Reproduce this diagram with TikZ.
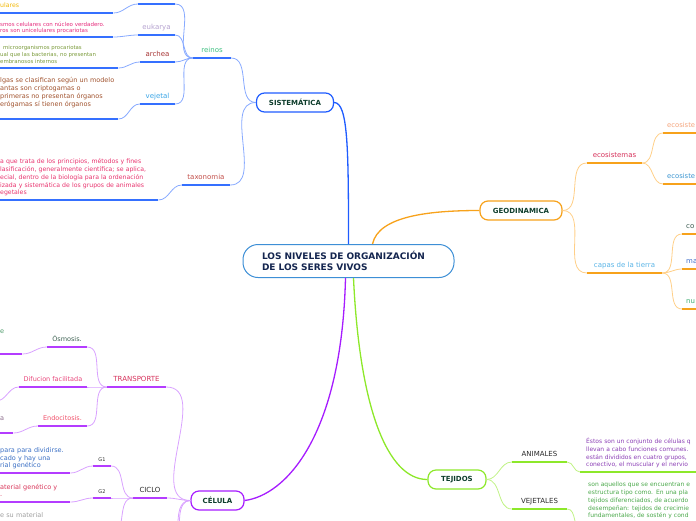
\documentclass[tikz,border=0pt]{standalone}
\usepackage{fontspec}
\setmainfont{DejaVu Sans}

\definecolor{rootblue}{HTML}{3D8FD6}
\definecolor{rootink}{HTML}{14254F}
\definecolor{boxink}{HTML}{0E3D2C}
\definecolor{sisblue}{HTML}{1F5CFF}
\definecolor{sisline}{HTML}{3570FF}
\definecolor{sislight}{HTML}{88AAFF}
\definecolor{geoorange}{HTML}{F7A21B}
\definecolor{geolight}{HTML}{FFCF88}
\definecolor{tejgreen}{HTML}{8DE82A}
\definecolor{tejlight}{HTML}{C0F285}
\definecolor{celpurple}{HTML}{A61CFF}
\definecolor{celline}{HTML}{B43CFF}
\definecolor{cellight}{HTML}{D9A2FF}
\definecolor{reinoink}{HTML}{3DBF80}
\definecolor{eukink}{HTML}{B5A2CF}
\definecolor{archink}{HTML}{A63434}
\definecolor{vejink}{HTML}{3AA5E6}
\definecolor{taxink}{HTML}{C24F4A}
\definecolor{ecoink}{HTML}{D6335C}
\definecolor{ecoAink}{HTML}{F4A47C}
\definecolor{ecoBink}{HTML}{3A94D0}
\definecolor{capink}{HTML}{5AB4E6}
\definecolor{capAink}{HTML}{3A5A50}
\definecolor{capBink}{HTML}{3A6AC8}
\definecolor{capCink}{HTML}{3AAA70}
\definecolor{darkink}{HTML}{2A2A2A}
\definecolor{transink}{HTML}{D6335C}
\definecolor{osmink}{HTML}{3D6152}
\definecolor{difink}{HTML}{E8457A}
\definecolor{endoink}{HTML}{F0506A}
\definecolor{ularink}{HTML}{F2B705}
\definecolor{eukdink}{HTML}{E52B7B}
\definecolor{archdink}{HTML}{7A9A3A}
\definecolor{vejdink}{HTML}{A0522D}
\definecolor{taxdink}{HTML}{E8336E}
\definecolor{osmdink}{HTML}{4D9A6A}
\definecolor{endodink}{HTML}{8A6A8A}
\definecolor{gonedink}{HTML}{3A6FC4}
\definecolor{gtwodink}{HTML}{D8365A}
\definecolor{grayink}{HTML}{9F9F9F}
\definecolor{animdink}{HTML}{8B3FB5}
\definecolor{vejedink}{HTML}{4AA84A}

\begin{document}
\begin{tikzpicture}[x=1pt,y=-1pt,
  root/.style={draw=rootblue, line width=1pt, fill=white, rounded corners=15pt,
    minimum height=33pt, text width=173pt, inner xsep=19pt, align=left,
    text=rootink, font=\fontsize{9}{11}\selectfont\bfseries},
  mainbox/.style={draw=#1, line width=1.2pt, fill=white, rounded corners=8pt,
    minimum height=19pt, text=boxink, font=\fontsize{7}{8}\selectfont\bfseries},
  topic/.style={anchor=south, inner xsep=0pt, inner ysep=3.8pt, text height=0.7em,
    text depth=0.2em, font=\fontsize{7}{8}\selectfont},
  small/.style={font=\fontsize{6.5}{7.5}\selectfont},
  edge/.style={anchor=south west, inner xsep=#1, minimum width=0pt},
  desc/.style={anchor=south west, inner xsep=0pt, inner ysep=2.7pt, align=left,
    execute at end node=\strut},
  ul/.style={draw=#1, line width=1.6pt},
  link/.style={draw=#1, line width=1.3pt},
  sub/.style={draw=#1, line width=0.8pt},
]
\useasboundingbox (0,0) rectangle (696,520);
\clip (0,0) rectangle (696,520);
\coordinate (edgeR) at (700,0);

\node[root] (root) at (348.5,261) {LOS NIVELES DE ORGANIZACIÓN\\DE LOS SERES VIVOS};

\node[mainbox=sisblue, minimum width=77pt] (sis) at (295,102.5) {SISTEMÁTICA};
\node[mainbox=geoorange, minimum width=82pt] (geo) at (521,210.5) {GEODINAMICA};
\node[mainbox=tejgreen, minimum width=58pt] (tej) at (457,479.5) {TEJIDOS};
\node[mainbox=celpurple, minimum width=53pt] (cel) at (217.5,500.5) {CÉLULA};

\draw[link=sisblue] (root.north) .. controls +(0,-95) and +(14,0) .. (sis.east);
\draw[link=geoorange] ([xshift=24pt]root.north) .. controls +(6,-28) and +(-50,0) .. (geo.west);
\draw[link=tejgreen] ([xshift=5pt]root.south) .. controls +(6,130) and +(-40,0) .. (tej.west);
\draw[link=celpurple] ([xshift=-3pt]root.south) .. controls +(-4,160) and +(40,-5) .. (cel.east);

\node[topic, minimum width=38pt, text=reinoink] (reinos) at (212,58) {reinos};
\node[topic, minimum width=37pt] (reinA) at (156.5,4) {};
\node[topic, minimum width=37pt, text=eukink] (euk) at (156.5,35) {eukarya};
\node[topic, minimum width=35pt, text=archink] (arch) at (157.5,62) {archea};
\node[topic, minimum width=35pt, text=vejink] (vej) at (157.5,104) {vejetal};
\node[topic, minimum width=48pt, text=taxink] (tax) at (206,185) {taxonomia};

\node[desc, text width=113pt, text=ularink, font=\fontsize{6.2}{7.7}\selectfont] (reinAd) at (0,13) {ulares};
\node[desc, text width=113pt, text=eukdink, font=\fontsize{5.5}{6.2}\selectfont] (eukd) at (0,37)
  {smos celulares con núcleo verdadero.\\ros son unicelulares procariotas};
\node[desc, text width=118pt, text=archdink, font=\fontsize{5.4}{7}\selectfont] (archd) at (0,68)
  {\hspace*{3pt}microorganismos procariotas\\ual que las bacterias, no presentan\\embranosos internos};
\node[desc, text width=118pt, text=vejdink, font=\fontsize{6.5}{7.7}\selectfont] (vejd) at (0,119)
  {lgas se clasifican según un modelo\\antas son criptogamas o\\primeras no presentan órganos\\erógamas sí tienen órganos\\~};
\node[desc, text width=158pt, text=taxdink, font=\fontsize{6.2}{7.7}\selectfont] (taxd) at (0,200)
  {a que trata de los principios, métodos y fines\\lasificación, generalmente científica; se aplica,\\ecial, dentro de la biología para la ordenación\\izada y sistemática de los grupos de animales\\egetales};

\draw[sub=sislight] (sis.west) to[out=180,in=0] (reinos.south east);
\draw[sub=sislight] (sis.west) to[out=180,in=0] (tax.south east);
\foreach \k in {reinA,euk,arch,vej}
  \draw[sub=sislight] (reinos.south west) to[out=180,in=0] (\k.south east);
\foreach \k/\d in {reinA/reinAd,euk/eukd,arch/archd,vej/vejd,tax/taxd}
  \draw[sub=sislight] (\k.south west) to[out=180,in=0] (\d.south east);
\foreach \k in {reinos,reinA,euk,arch,vej,tax,reinAd,eukd,archd,vejd,taxd}
  \draw[ul=sisline] (\k.south west) -- (\k.south east);

\node[topic, minimum width=55pt, text=ecoink] (eco) at (614.5,163) {ecosistemas};
\node[topic, edge=4pt, text=ecoAink, font=\fontsize{6.8}{8}\selectfont] (ecoA) at (663,133) {ecosiste};
\node[topic, edge=4pt, text=ecoBink, font=\fontsize{6.8}{8}\selectfont] (ecoB) at (663,184) {ecosiste};
\node[topic, minimum width=75pt, text=capink] (capas) at (624.5,273) {capas de la tierra};
\node[topic, edge=4pt, text=capAink] (capA) at (682,234) {co};
\node[topic, edge=4pt, text=capBink] (capB) at (682,269) {ma};
\node[topic, edge=4pt, text=capCink] (capC) at (682,309) {nu};

\draw[sub=geolight] (geo.east) to[out=0,in=180] (eco.south west);
\draw[sub=geolight] (geo.east) to[out=0,in=180] (capas.south west);
\foreach \k in {ecoA,ecoB}
  \draw[sub=geolight] (eco.south east) to[out=0,in=180] (\k.south west);
\foreach \k in {capA,capB,capC}
  \draw[sub=geolight] (capas.south east) to[out=0,in=180] (\k.south west);
\foreach \k in {eco,capas}
  \draw[ul=geoorange] (\k.south west) -- (\k.south east);
\foreach \k in {ecoA,ecoB,capA,capB,capC}
  \draw[ul=geoorange] (\k.south west) -- (\k.south west -| edgeR);

\node[topic, minimum width=55pt, text=darkink] (anim) at (539.5,462) {ANIMALES};
\node[topic, minimum width=55pt, text=darkink] (veje) at (539.5,509) {VEJETALES};
\node[desc, inner xsep=6pt, text width=160pt, text=animdink, font=\fontsize{6}{7.7}\selectfont] (animd) at (580,472)
  {Éstos son un conjunto de células q\\llevan a cabo funciones comunes.\\están divididos en cuatro grupos,\\conectivo, el muscular y el nervio};
\node[desc, anchor=north west, inner xsep=6pt, text width=160pt, text=vejedink, font=\fontsize{6}{7.7}\selectfont] (vejetxt) at (582,479.5)
  {son aquellos que se encuentran e\\estructura tipo como. En una pla\\tejidos diferenciados, de acuerdo\\desempeñan: tejidos de crecimie\\fundamentales, de sostén y cond};
\coordinate (vejeD) at (582,530);

\draw[sub=tejlight] (tej.east) to[out=0,in=180] (anim.south west);
\draw[sub=tejlight] (tej.east) to[out=0,in=180] (veje.south west);
\draw[sub=tejlight] (anim.south east) to[out=0,in=180] (animd.south west);
\draw[sub=tejlight] (veje.south east) to[out=0,in=180] (vejeD);
\foreach \k in {anim,veje}
  \draw[ul=tejgreen] (\k.south west) -- (\k.south east);
\draw[ul=tejgreen] (animd.south west) -- (animd.south west -| edgeR);

\node[topic, minimum width=59pt, text=transink] (trans) at (136.5,387) {TRANSPORTE};
\node[topic, minimum width=34pt, text=darkink] (ciclo) at (150,498) {CICLO};
\node[topic, small, minimum width=40pt, text=osmink] (osm) at (67,347) {Ósmosis.};
\node[topic, small, minimum width=68pt, text=difink] (dif) at (53,387) {Difucion facilitada};
\node[topic, small, minimum width=49pt, text=endoink] (endo) at (62.5,426) {Endocitosis.};
\node[topic, minimum width=18pt, inner ysep=2.5pt, text=darkink, font=\fontsize{5}{6}\selectfont] (gone) at (102,466) {G1};
\node[topic, minimum width=18pt, inner ysep=2.5pt, text=darkink, font=\fontsize{5}{6}\selectfont] (gtwo) at (102,498) {G2};

\node[desc, text width=22pt, text=osmdink, font=\fontsize{6.5}{7.7}\selectfont] (osmd) at (0,354) {e\\~\\~};
\coordinate (difd) at (-4,401);
\node[desc, text width=13pt, text=endodink, font=\fontsize{6.5}{7.7}\selectfont] (endod) at (0,433) {a\\~};
\node[desc, text width=70pt, text=gonedink, font=\fontsize{6.5}{7.7}\selectfont] (goned) at (0,473)
  {para para dividirse.\\cado y hay una\\rial genético};
\node[desc, text width=70pt, text=gtwodink, font=\fontsize{6.5}{7.7}\selectfont] (gtwod) at (0,502)
  {aterial genético y\\.};
\node[desc, anchor=north west, text width=60pt, text=grayink, font=\fontsize{6.5}{7.7}\selectfont] (gthreed) at (0,509) {e su material};
\coordinate (gthree) at (111,535);
\coordinate (celC) at (165,555);
\coordinate (celD) at (172,600);

\draw[sub=cellight] (cel.west) to[out=180,in=0] (trans.south east);
\draw[sub=cellight] (cel.west) to[out=180,in=0] (ciclo.south east);
\draw[sub=cellight] (cel.west) to[out=180,in=0] (celC);
\draw[sub=cellight] (cel.west) to[out=180,in=0,looseness=0.7] (celD);
\foreach \k in {osm,dif,endo}
  \draw[sub=cellight] (trans.south west) to[out=180,in=0] (\k.south east);
\foreach \k in {gone,gtwo}
  \draw[sub=cellight] (ciclo.south west) to[out=180,in=0] (\k.south east);
\draw[sub=cellight] (ciclo.south west) to[out=180,in=0] (gthree);
\foreach \k/\d in {osm/osmd,endo/endod,gone/goned,gtwo/gtwod}
  \draw[sub=cellight] (\k.south west) to[out=180,in=0] (\d.south east);
\draw[sub=cellight] (dif.south west) to[out=180,in=0] (difd);
\foreach \k in {trans,ciclo,osm,dif,endo,gone,gtwo,osmd,endod,goned,gtwod}
  \draw[ul=celline] (\k.south west) -- (\k.south east);
\end{tikzpicture}
\end{document}
